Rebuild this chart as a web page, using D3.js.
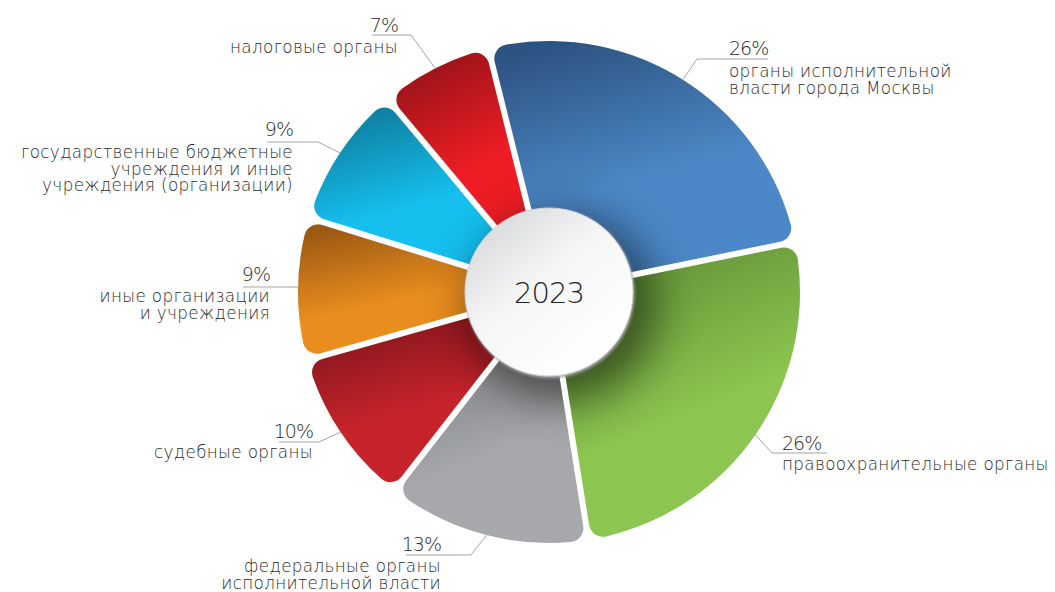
<!DOCTYPE html>
<html>
<head>
<meta charset="utf-8">
<script src="https://cdn.jsdelivr.net/npm/d3@7"></script>
<style>
  html, body { margin: 0; padding: 0; background: #fff; }
  svg text { font-family: "DejaVu Sans", sans-serif; fill: #2a2a2a; }
</style>
</head>
<body>
<svg id="chart" width="1055" height="592"></svg>
<script>
// Distribution of recipients by category, 2023 (percent)
const categories = [
  "органы исполнительной власти города Москвы",
  "правоохранительные органы",
  "федеральные органы исполнительной власти",
  "судебные органы",
  "иные организации и учреждения",
  "государственные бюджетные учреждения и иные учреждения (организации)",
  "налоговые органы"
];
const shares = [26, 26, 13, 10, 9, 9, 7];
const centerTitle = "2023";

// Line breaks used for each category label
const labelLines = [
  ["органы исполнительной", "власти города Москвы"],
  ["правоохранительные органы"],
  ["федеральные органы", "исполнительной власти"],
  ["судебные органы"],
  ["иные организации", "и учреждения"],
  ["государственные бюджетные", "учреждения и иные", "учреждения (организации)"],
  ["налоговые органы"]
];

// Slice colours: shaded top and main tone
const colorDark  = ["#2d5382", "#5f8f35", "#7a7b7e", "#7c141a", "#9c5913", "#0e7c9c", "#961318"];
const colorLight = ["#4c88c7", "#8cc550", "#a7a8ab", "#c6232b", "#e98d1e", "#15bfee", "#ee1d25"];

// Label placement: elbow of the leader, end of the horizontal rule, text anchor
const labelLayout = [
  { elbow: [697, 59],  end: [768, 59],  tx: 729, anchor: "start", pctY: 55,  nameY: 77 },
  { elbow: [772, 453], end: [827, 453], tx: 782, anchor: "start", pctY: 450, nameY: 470 },
  { elbow: [471, 555], end: [406, 555], tx: 441, anchor: "end",   pctY: 551, nameY: 572 },
  { elbow: [319, 442], end: [279, 442], tx: 313, anchor: "end",   pctY: 438, nameY: 458 },
  { elbow: [297, 287], end: [243, 287], tx: 270, anchor: "end",   pctY: 281, nameY: 302 },
  { elbow: [318, 142], end: [267, 142], tx: 293, anchor: "end",   pctY: 136, nameY: 158 },
  { elbow: [411, 35],  end: [372, 35],  tx: 398, anchor: "end",   pctY: 32,  nameY: 53 }
];
const lineStep = 16.5;

const cx = 549, cy = 292;
const outerR = 251, holeR = 84;
const startAngle = -14 * Math.PI / 180;

const svg = d3.select("#chart");
const defs = svg.append("defs");

const pie = d3.pie()
  .value(d => d)
  .sort(null)
  .startAngle(startAngle)
  .endAngle(startAngle + 2 * Math.PI)
  .padAngle(6 / outerR);

const arcs = pie(shares);

const arc = d3.arc()
  .innerRadius(40)
  .outerRadius(outerR)
  .padRadius(outerR)
  .cornerRadius(14);

// per-slice vertical shading
arcs.forEach((a, i) => {
  const g = defs.append("linearGradient")
    .attr("id", "slice-grad-" + i)
    .attr("x1", 0.25).attr("y1", 0)
    .attr("x2", 0.6).attr("y2", 1);
  g.append("stop").attr("offset", 0).attr("stop-color", colorDark[i]);
  g.append("stop").attr("offset", 0.6).attr("stop-color", colorLight[i]);
  g.append("stop").attr("offset", 1).attr("stop-color", colorLight[i]);
});

// clip for the hub shadow so that the white gaps stay clean
const clip = defs.append("clipPath").attr("id", "slices-clip");
clip.selectAll("path").data(arcs).join("path")
  .attr("transform", `translate(${cx},${cy})`)
  .attr("d", arc);

const blur = defs.append("filter").attr("id", "hub-blur")
  .attr("x", "-100%").attr("y", "-100%").attr("width", "300%").attr("height", "300%");
blur.append("feGaussianBlur").attr("stdDeviation", 22);

const softShadow = defs.append("filter").attr("id", "hub-edge")
  .attr("x", "-20%").attr("y", "-20%").attr("width", "140%").attr("height", "140%");
softShadow.append("feGaussianBlur").attr("stdDeviation", 1.5);

const hubGrad = defs.append("linearGradient").attr("id", "hub-grad")
  .attr("x1", 0.1).attr("y1", 0.05).attr("x2", 0.8).attr("y2", 0.9);
hubGrad.append("stop").attr("offset", 0).attr("stop-color", "#d6d7da");
hubGrad.append("stop").attr("offset", 0.45).attr("stop-color", "#f5f5f6");
hubGrad.append("stop").attr("offset", 1).attr("stop-color", "#ffffff");

// slices
svg.append("g")
  .attr("transform", `translate(${cx},${cy})`)
  .selectAll("path").data(arcs).join("path")
  .attr("d", arc)
  .attr("fill", (d, i) => `url(#slice-grad-${i})`);

// shadow cast by the hub onto the slices
svg.append("g").attr("clip-path", "url(#slices-clip)")
  .append("circle")
  .attr("cx", cx + 14).attr("cy", cy + 16)
  .attr("r", holeR + 10)
  .attr("fill", "#000")
  .attr("opacity", 0.5)
  .attr("filter", "url(#hub-blur)");

// hub
svg.append("circle")
  .attr("cx", cx + 1).attr("cy", cy + 1.5)
  .attr("r", holeR + 0.5)
  .attr("fill", "#a8a8aa")
  .attr("filter", "url(#hub-edge)");
svg.append("circle")
  .attr("cx", cx).attr("cy", cy)
  .attr("r", holeR)
  .attr("fill", "url(#hub-grad)")
  .attr("stroke", "#d2d2d4")
  .attr("stroke-width", 1);

svg.append("text")
  .attr("x", cx).attr("y", cy + 11)
  .attr("text-anchor", "middle")
  .attr("font-size", 29)
  .attr("font-weight", 200)
  .attr("letter-spacing", -1)
  .style("fill", "#222")
  .text(centerTitle);

// labels with leader lines
const labels = svg.append("g");
arcs.forEach((a, i) => {
  const L = labelLayout[i];
  const mid = (a.startAngle + a.endAngle) / 2;
  const sx = cx + outerR * Math.sin(mid);
  const sy = cy - outerR * Math.cos(mid);
  labels.append("path")
    .attr("d", d3.line()([[sx, sy], L.elbow, L.end]))
    .attr("fill", "none")
    .attr("stroke", "#a5a5a5")
    .attr("stroke-width", 1);
  labels.append("text")
    .attr("x", L.tx).attr("y", L.pctY)
    .attr("text-anchor", L.anchor)
    .attr("font-size", 19)
    .attr("font-weight", 200)
    .attr("letter-spacing", -1)
    .text(shares[i] + "%");
  const name = labels.append("text")
    .attr("x", L.tx).attr("y", L.nameY)
    .attr("text-anchor", L.anchor)
    .attr("font-size", 16.8)
    .attr("font-weight", 200)
    .attr("letter-spacing", 0.35);
  labelLines[i].forEach((line, k) => {
    name.append("tspan")
      .attr("x", L.tx)
      .attr("y", L.nameY + k * lineStep)
      .text(line);
  });
});
</script>
</body>
</html>
